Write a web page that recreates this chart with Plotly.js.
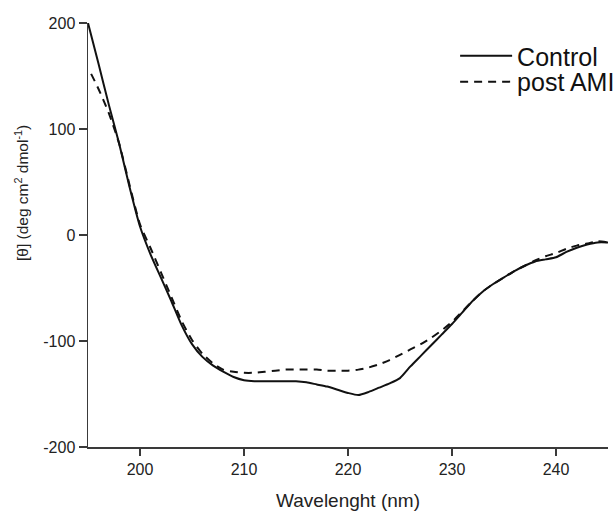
<!DOCTYPE html>
<html>
<head>
<meta charset="utf-8">
<script src="https://cdn.plot.ly/plotly-3.0.1.min.js"></script>
<style>html,body{margin:0;padding:0;background:#fff;}#chart{width:616px;height:511px;}</style>
</head>
<body>
<div id="chart"></div>
<script>
// Wavelength (nm)
const wavelength = [195,196,197,198,199,200,201,202,203,204,205,206,207,208,209,210,211,212,213,214,215,216,217,218,219,220,221,222,223,224,225,226,227,228,229,230,231,232,233,234,235,236,237,238,239,240,241,242,243,244,245];
// Control ellipticity
const control = [200,162,123,86,45,8,-18,-40,-62,-85,-103,-115,-123,-129,-134,-137,-138,-138,-138,-138,-138,-139,-141,-143,-146,-149,-151,-148,-144,-140,-135,-124,-114,-104,-94,-84,-73,-62,-53,-46,-40,-34,-29,-25,-23,-21,-16,-12,-9,-7,-7];
// post AMI wavelengths and ellipticity
const wavelengthAMI = [195.3,196,197,198,199,200,201,202,203,204,205,206,207,208,209,210,211,212,213,214,215,216,217,218,219,220,221,222,223,224,225,226,227,228,229,230,231,232,233,234,235,236,237,238,239,240,241,242,243,244,245];
const postAMI = [152,138,115,86,47,10,-12,-35,-58,-81,-99,-112,-121,-127,-129,-130,-130,-129,-128,-127,-127,-127,-127,-128,-128,-128,-127,-125,-122,-118,-113,-108,-103,-97,-90,-82,-72,-62,-53,-46,-40,-34,-29,-24,-20,-17,-13,-10,-8,-6,-7];
const xTicks = [200,210,220,230,240];
const yTicks = [-200,-100,0,100,200];
const seriesNames = ["Control","post AMI"];

const font = "Liberation Sans, Arial, sans-serif";
const axisColor = "#3a3a3a";

const traces = [
  {x: wavelength, y: control, name: seriesNames[0], mode: "lines", legend: "legend",
   line: {color: "#111", width: 2, shape: "spline", smoothing: 0.6}},
  {x: wavelengthAMI, y: postAMI, name: seriesNames[1], mode: "lines", legend: "legend2",
   line: {color: "#111", width: 2, dash: "8px,6px", shape: "spline", smoothing: 0.6}}
];

const legendBase = {xanchor: "left", yanchor: "middle",
  font: {size: 25, family: font, color: "#111"},
  bgcolor: "rgba(0,0,0,0)", borderwidth: 0, itemwidth: 52};

const layout = {
  width: 616, height: 511,
  margin: {l: 88, r: 8, t: 23, b: 64, autoexpand: false},
  paper_bgcolor: "#fff", plot_bgcolor: "#fff",
  font: {family: font, color: "#222"},
  showlegend: true,
  legend: Object.assign({x: 0.706, y: 0.922}, legendBase),
  legend2: Object.assign({x: 0.706, y: 0.861}, legendBase),
  xaxis: {range: [195, 245], tickvals: xTicks, ticktext: xTicks.map(String),
    showgrid: false, zeroline: false, showline: true, linecolor: axisColor, linewidth: 1.5,
    ticks: "outside", ticklen: 7, tickwidth: 1.5, tickcolor: axisColor,
    tickfont: {size: 16, family: font, color: "#222"},
    title: {text: "Wavelenght (nm)", font: {size: 19, family: font, color: "#222"}, standoff: 22}},
  yaxis: {range: [-200, 200], tickvals: yTicks, ticktext: yTicks.map(String),
    showgrid: false, zeroline: false, showline: true, linecolor: axisColor, linewidth: 1.5,
    ticks: "outside", ticklen: 8, tickwidth: 1.5, tickcolor: axisColor,
    tickfont: {size: 16, family: font, color: "#222"}},
  annotations: [{
    text: "[θ] (deg cm<sup>2</sup> dmol<sup>-1</sup>)",
    xref: "paper", yref: "paper", x: -0.128, y: 0.6, xanchor: "center", yanchor: "middle",
    textangle: -90, showarrow: false, font: {size: 15.5, family: font, color: "#222"}
  }]
};

Plotly.newPlot("chart", traces, layout, {displayModeBar: false, staticPlot: true});
</script>
</body>
</html>
